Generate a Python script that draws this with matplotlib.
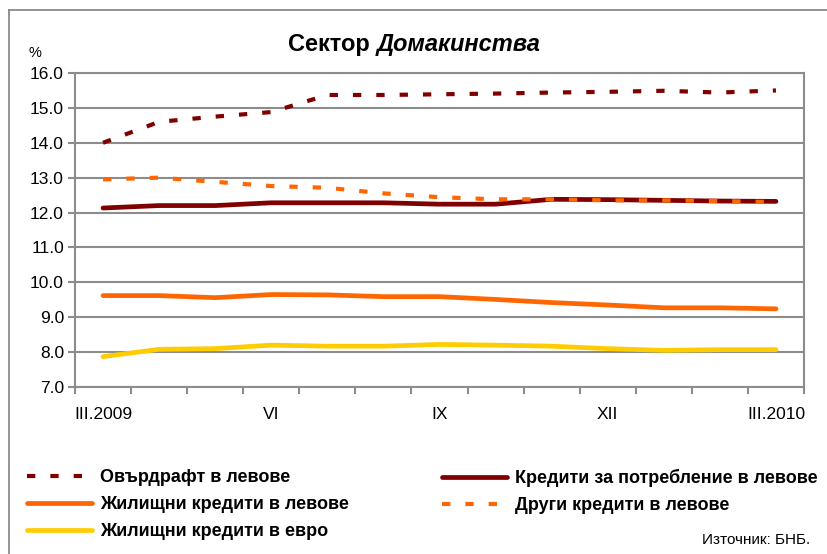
import matplotlib
matplotlib.use("Agg")
import matplotlib.pyplot as plt
from matplotlib.lines import Line2D

plt.rcParams['font.family'] = ['Liberation Sans', 'DejaVu Sans']

months = ["III.2009", "IV", "V", "VI", "VII", "VIII", "IX", "X", "XI", "XII", "I", "II", "III.2010"]
shown_labels = {0: "III.2009", 3: "VI", 6: "IX", 9: "XII", 12: "III.2010"}

overdraft_bgn = [14.0, 14.6, 14.75, 14.88, 15.37, 15.37, 15.39, 15.41, 15.44, 15.46, 15.49, 15.44, 15.5]
consumer_bgn = [12.13, 12.2, 12.2, 12.28, 12.28, 12.28, 12.24, 12.24, 12.38, 12.37, 12.35, 12.33, 12.32]
housing_bgn = [9.62, 9.62, 9.56, 9.65, 9.64, 9.59, 9.59, 9.51, 9.42, 9.35, 9.27, 9.27, 9.24]
other_bgn = [12.95, 13.0, 12.88, 12.76, 12.71, 12.55, 12.44, 12.38, 12.38, 12.35, 12.35, 12.33, 12.3]
housing_eur = [7.87, 8.08, 8.1, 8.2, 8.17, 8.17, 8.22, 8.2, 8.17, 8.1, 8.05, 8.07, 8.07]

names = ["Овърдрафт в левове", "Кредити за потребление в левове",
         "Жилищни кредити в левове", "Други кредити в левове",
         "Жилищни кредити в евро"]

DARK = "#800000"
ORANGE = "#FF6600"
YELLOW = "#FFCC00"
GRID = "#8C8C8C"

W, H = 827, 554
fig = plt.figure(figsize=(W/100, H/100), dpi=100)
ax = fig.add_axes([75/W, 1-387/H, (804-75)/W, (387-73)/H])

x = list(range(len(months)))
dash = (0, (2, 3.6))
l_eur, = ax.plot(x, housing_eur, color=YELLOW, lw=3.4, solid_capstyle='round', solid_joinstyle='round', zorder=3)
l_hbgn, = ax.plot(x, housing_bgn, color=ORANGE, lw=3.4, solid_capstyle='round', solid_joinstyle='round', zorder=3)
l_cons, = ax.plot(x, consumer_bgn, color=DARK, lw=3.4, solid_capstyle='round', solid_joinstyle='round', zorder=3)
l_other, = ax.plot(x, other_bgn, color=ORANGE, lw=3.0, linestyle=dash, dash_capstyle='butt', zorder=4)
l_over, = ax.plot(x, overdraft_bgn, color=DARK, lw=3.0, linestyle=dash, dash_capstyle='butt', zorder=4)

ax.set_xlim(-0.5, len(months) - 0.5)
ax.set_ylim(7.0, 16.0)
ax.set_yticks([7 + i for i in range(10)])
ax.set_yticklabels([f"{7 + i:.1f}" for i in range(10)], fontsize=12.5)
ax.set_xticks([i - 0.5 for i in range(len(months) + 1)])
ax.set_xticklabels([])
ax.set_xticks(x, minor=True)
ax.set_xticklabels([shown_labels.get(i, "") for i in x], minor=True, fontsize=12.5)
ax.tick_params(axis='x', which='major', direction='out', length=5, width=1.5, color=GRID)
ax.tick_params(axis='x', which='minor', length=0, pad=14.5)
ax.tick_params(axis='y', direction='out', length=5, width=1.5, color=GRID, pad=3)
ax.grid(axis='y', color=GRID, lw=1.5, zorder=1)
ax.set_axisbelow(True)
for s in ['left', 'right', 'bottom', 'top']:
    ax.spines[s].set_color(GRID)
    ax.spines[s].set_linewidth(1.5)

fig.text(35/W, 1-53/H, "%", fontsize=10.5, ha='center', va='center')

# title with italic part
t_left = fig.text(288/W, 1-44/H, "Сектор ", fontsize=17, fontweight='bold', ha='left', va='center')
fig.canvas.draw()
bb = t_left.get_window_extent()
fig.text(bb.x1/W, 1-44/H, "Домакинства", fontsize=17, fontweight='bold', style='italic', ha='left', va='center')

leg_kw = dict(loc='upper left', frameon=False, prop={'weight': 'bold', 'size': 13},
              handlelength=3.6, handletextpad=0.45, labelspacing=0.56,
              borderpad=0, borderaxespad=0)
leg1 = fig.legend([l_over, l_hbgn, l_eur], [names[0], names[2], names[4]],
                  bbox_to_anchor=(27/W, 1-469/H), **leg_kw)
leg2 = fig.legend([l_cons, l_other], [names[1], names[3]],
                  bbox_to_anchor=(442/W, 1-469/H), **leg_kw)

fig.text(810/W, 1-540/H, "Източник: БНБ.", fontsize=11, ha='right', va='center')

fig.add_artist(Line2D([9/W, 1], [1-10/H, 1-10/H], color="#808080", lw=1.2))
fig.add_artist(Line2D([9/W, 9/W], [0, 1-10/H], color="#808080", lw=1.2))

fig.savefig("out.png", dpi=100)
